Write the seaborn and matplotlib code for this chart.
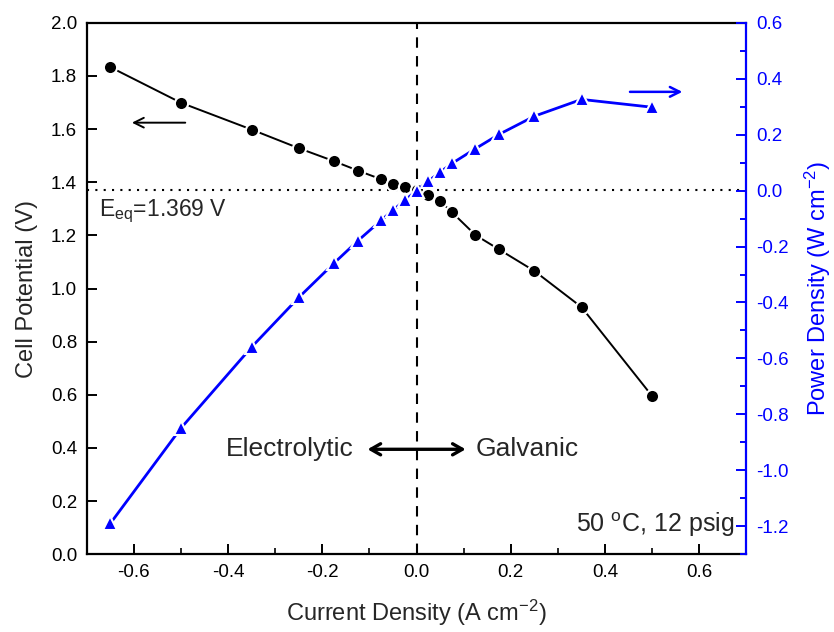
import numpy as np
import pandas as pd
import matplotlib
matplotlib.use('Agg')
import matplotlib.pyplot as plt
import seaborn as sns
from matplotlib.ticker import MultipleLocator, FormatStrFormatter

sns.set_style('ticks')
plt.rcParams['font.family'] = ['Liberation Sans', 'DejaVu Sans']
plt.rcParams['mathtext.fontset'] = 'custom'
plt.rcParams['mathtext.rm'] = 'Liberation Sans'
plt.rcParams['mathtext.it'] = 'Liberation Sans'

# dados
corrente = [-0.65, -0.5, -0.35, -0.25, -0.175, -0.125, -0.075, -0.05, -0.025, 0.0,
            0.025, 0.05, 0.075, 0.125, 0.175, 0.25, 0.35, 0.5]
potencial = [1.833, 1.699, 1.598, 1.528, 1.479, 1.444, 1.411, 1.395, 1.381, 1.369,
             1.351, 1.329, 1.287, 1.201, 1.147, 1.066, 0.930, 0.595]
potencia = [-1.190, -0.849, -0.559, -0.382, -0.259, -0.180, -0.106, -0.070, -0.035, 0.0,
            0.034, 0.066, 0.097, 0.150, 0.201, 0.266, 0.326, 0.298]
E_eq = 1.369

df = pd.DataFrame({'i': corrente, 'V': potencial, 'P': potencia})
azul = '#0000FF'

fig = plt.figure(figsize=(8.34, 6.32), dpi=100)
ax = fig.add_axes([0.104, 0.123, 0.791, 0.841])
ax2 = ax.twinx()

sns.lineplot(data=df, x='i', y='V', sort=False, ax=ax, color='black', lw=1.4,
             marker='o', markersize=9.5, markeredgecolor='white', markeredgewidth=1.5,
             markerfacecolor='black')
sns.lineplot(data=df, x='i', y='P', sort=False, ax=ax2, color=azul, lw=2,
             marker='^', markersize=10.5, markeredgecolor='white', markeredgewidth=1.5,
             markerfacecolor=azul)

ax.set_xlim(-0.7, 0.7)
ax.set_ylim(0.0, 2.0)
ax2.set_ylim(-1.3, 0.6)

ax.axhline(E_eq, color='black', ls=(0, (1, 3)), lw=1.5, zorder=0)
ax.axvline(0.0, color='black', ls=(0, (5, 4)), lw=1.5, zorder=0)

ax.xaxis.set_major_locator(MultipleLocator(0.2))
ax.xaxis.set_minor_locator(MultipleLocator(0.1))
ax.yaxis.set_major_locator(MultipleLocator(0.2))
ax2.yaxis.set_major_locator(MultipleLocator(0.2))
ax2.yaxis.set_minor_locator(MultipleLocator(0.1))

ax.tick_params(axis='both', which='major', direction='in', length=7.5, width=1.4,
               labelsize=13.5, colors='black', pad=7)
ax.tick_params(axis='x', which='minor', direction='in', length=4.5, width=1.4)
ax.tick_params(axis='y', which='minor', left=False)
ax2.tick_params(axis='y', which='major', direction='in', length=7.5, width=1.4,
                labelsize=13.5, colors=azul, pad=7)
ax2.tick_params(axis='y', which='minor', direction='in', length=4.5, width=1.4, colors=azul)

ax.xaxis.set_major_formatter(FormatStrFormatter('%.1f'))
ax.yaxis.set_major_formatter(FormatStrFormatter('%.1f'))
ax2.yaxis.set_major_formatter(FormatStrFormatter('%.1f'))

for s in ['left', 'bottom', 'top']:
    ax.spines[s].set_linewidth(1.6)
    ax.spines[s].set_color('black')
ax.spines['right'].set_visible(False)
for s in ['left', 'bottom', 'top']:
    ax2.spines[s].set_visible(False)
ax2.spines['right'].set_color(azul)
ax2.spines['right'].set_linewidth(1.6)

ax.set_xlabel('Current Density (A cm$^{-2}$)', fontsize=17, labelpad=12)
ax.set_ylabel('Cell Potential (V)', fontsize=17, labelpad=9)
ax2.set_ylabel('Power Density (W cm$^{-2}$)', fontsize=17, color=azul, labelpad=10)

# textos e setas
ax.text(-0.675, 1.292, 'E$_{eq}$=1.369 V', fontsize=16.5, va='center', ha='left')
ax.annotate('', xy=(-0.61, 1.624), xytext=(-0.485, 1.624),
            arrowprops=dict(arrowstyle='->,head_length=0.7,head_width=0.35', lw=1.4, color='black'))
ax2.annotate('', xy=(0.57, 0.353), xytext=(0.447, 0.353),
             arrowprops=dict(arrowstyle='->,head_length=0.7,head_width=0.35', lw=1.8, color=azul))
ax.annotate('', xy=(-0.11, 0.395), xytext=(0.11, 0.395),
            arrowprops=dict(arrowstyle='<->,head_length=0.7,head_width=0.4', lw=2.4, color='black'))
ax.text(-0.133, 0.395, 'Electrolytic', fontsize=19, ha='right', va='center')
ax.text(0.125, 0.395, 'Galvanic', fontsize=19, ha='left', va='center')
ax.text(0.675, 0.113, '50 $^{\\rm o}$C, 12 psig', fontsize=18, ha='right', va='center')

plt.savefig('out.png', dpi=100)
